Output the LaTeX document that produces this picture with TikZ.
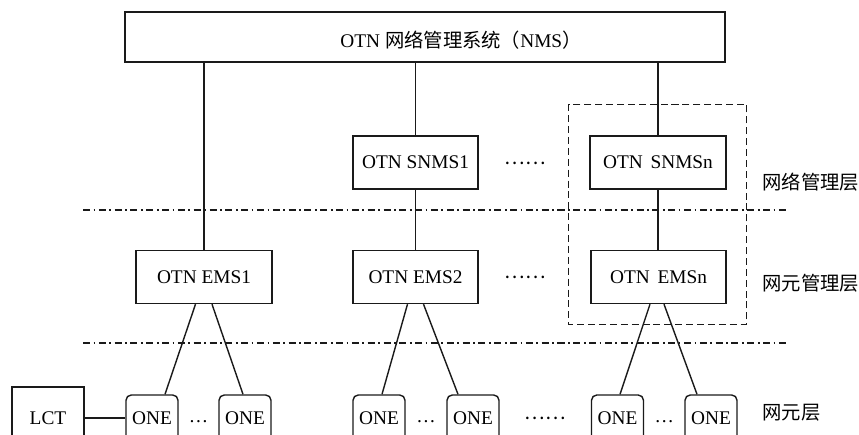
\documentclass[tikz,border=0pt]{standalone}
\usepackage{fontspec}
\setmainfont{Liberation Serif}
\newfontfamily\cjk{Noto Sans CJK SC}
\usetikzlibrary{positioning,calc}
\definecolor{cLine}{HTML}{1A1A1A}
\newcommand{\zh}[1]{{\cjk #1}}
\tikzset{
  box/.style={draw=cLine,line width=0.8pt,inner sep=2pt,font=\fontsize{11}{13}\selectfont},
  sys/.style={box,minimum width=#1,minimum height=1.06cm},
  onebox/.style={box,rounded corners=3pt,minimum width=1.04cm,minimum height=0.92cm,inner sep=1pt},
  lctbox/.style={box,minimum width=1.44cm,minimum height=1.24cm},
  layer/.style={anchor=west,inner sep=0pt,font=\fontsize{11}{13}\selectfont\cjk},
  gap/.style={inner sep=0pt,font=\fontsize{11}{13}\selectfont},
  link/.style={draw=cLine,line width=0.8pt},
  group/.style={draw=cLine,line width=0.7pt,dash pattern=on 4pt off 2.2pt},
  layersep/.style={draw=cLine,line width=0.6pt,dash pattern=on 4pt off 2pt on 1pt off 2pt},
}

\begin{document}
\begin{tikzpicture}[x=1cm,y=1cm]
\clip (0,0) rectangle (17.18,-8.7);

% ---------------------------------------------------------------- NMS
\node[sys=12.0cm,minimum height=1.0cm] (nms) at (8.5,-0.74) {};
\node[box,draw=none] (nmslbl) at (9.22,-0.80) {OTN \zh{网络管理系统（}NMS\zh{）}};

% ---------------------------------------------------------------- network management layer
\node[sys=2.5cm]  (snms1) at (8.31,-3.25)  {OTN SNMS1};
\node[sys=2.72cm] (snmsn) at (13.16,-3.25) {OTN\hspace{0.4em}SNMSn};
\node[gap] (dsn) at (10.5,-3.26) {\zh{……}};

% ---------------------------------------------------------------- element management layer
\node[sys=2.72cm] (ems1) at (4.08,-5.54)  {OTN EMS1};
\node[sys=2.5cm]  (ems2) at (8.31,-5.54)  {OTN EMS2};
\node[sys=2.7cm]  (emsn) at (13.17,-5.54) {OTN\hspace{0.4em}EMSn};
\node[gap] (dem) at (10.5,-5.54) {\zh{……}};

% ---------------------------------------------------------------- network element layer
\node[lctbox] (lct) at (0.96,-8.36) {LCT};
\node[onebox] (one1) at (3.04,-8.36)  {ONE};
\node[onebox] (one2) at (4.90,-8.36)  {ONE};
\node[onebox] (one3) at (7.58,-8.36)  {ONE};
\node[onebox] (one4) at (9.46,-8.36)  {ONE};
\node[onebox] (one5) at (12.35,-8.36) {ONE};
\node[onebox] (one6) at (14.22,-8.36) {ONE};
\node[gap] (d12) at ($(one1.east)!0.5!(one2.west)+(0,-0.08)$) {\ldots};
\node[gap] (d34) at ($(one3.east)!0.5!(one4.west)+(0,-0.08)$) {\ldots};
\node[gap] (d56) at ($(one5.east)!0.5!(one6.west)+(0,-0.08)$) {\ldots};
\node[gap] (done) at (10.9,-8.36) {\zh{……}};

% ---------------------------------------------------------------- layer names
\node[layer] (lnet) at (15.24,-3.64) {网络管理层};
\node[layer] (lem)  at (15.24,-5.66) {网元管理层};
\node[layer] (lne)  at (15.24,-8.26) {网元层};

% ---------------------------------------------------------------- separators
\draw[layersep] (1.66,-4.2) -- (15.72,-4.2);
\draw[layersep] (1.66,-6.86) -- (15.72,-6.86);
\draw[group] ($(snmsn.north west)+(-0.42,0.62)$) rectangle ($(emsn.south east)+(0.4,-0.4)$);

% ---------------------------------------------------------------- links
\draw[link] (ems1.north) -- (ems1.north |- nms.south);
\draw[link] (snms1.north) -- (snms1.north |- nms.south);
\draw[link] (snmsn.north) -- (snmsn.north |- nms.south);
\draw[link] (snms1.south) -- (ems2.north);
\draw[link] (snmsn.south) -- (snmsn.south |- emsn.north);

\draw[link] ($(ems1.south)+(-0.17,0)$) -- ($(one1.north)+(0.26,0)$);
\draw[link] ($(ems1.south)+(0.16,0)$)  -- ($(one2.north)+(-0.04,0)$);
\draw[link] ($(ems2.south)+(-0.16,0)$) -- ($(one3.north)+(0.06,0)$);
\draw[link] ($(ems2.south)+(0.16,0)$)  -- ($(one4.north)+(-0.3,0)$);
\draw[link] ($(emsn.south)+(-0.17,0)$) -- ($(one5.north)+(0.05,0)$);
\draw[link] ($(emsn.south)+(0.11,0)$)  -- ($(one6.north)+(-0.28,0)$);
\draw[link] (lct.east) -- (one1.west);

\end{tikzpicture}
\end{document}
